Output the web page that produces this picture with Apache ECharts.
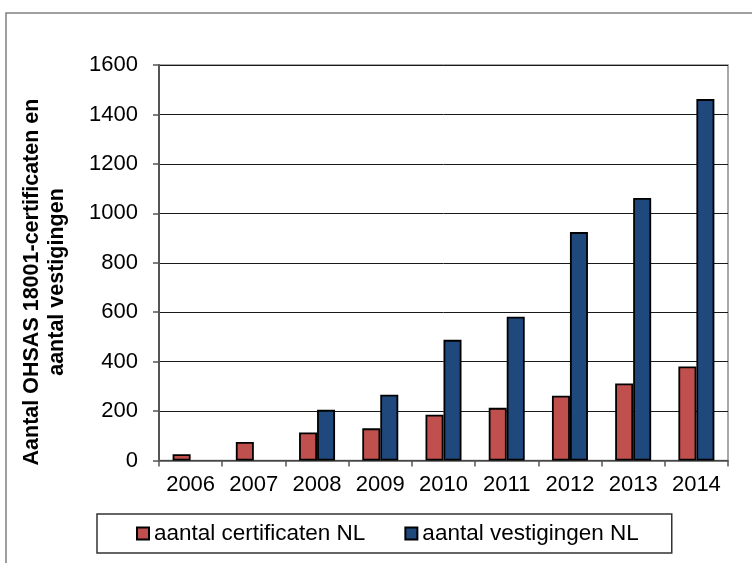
<!DOCTYPE html>
<html>
<head>
<meta charset="utf-8">
<script src="https://cdn.jsdelivr.net/npm/echarts@6/dist/echarts.min.js"></script>
<style>html,body{margin:0;padding:0;background:#fff;}#c{width:752px;height:563px;}</style>
</head>
<body>
<div id="c"></div>
<script>
const years = ['2006','2007','2008','2009','2010','2011','2012','2013','2014'];
const certificaten = [25, 75, 113, 130, 185, 213, 262, 312, 380];
const vestigingen = [null, null, 205, 266, 488, 582, 924, 1062, 1462];
const seriesNames = ['aantal certificaten NL', 'aantal vestigingen NL'];
const yTitle = 'Aantal OHSAS 18001-certificaten en\naantal vestigingen';

const FONT = '"Liberation Sans", Arial, sans-serif';
const chart = echarts.init(document.getElementById('c'), null, {renderer: 'canvas'});
chart.setOption({
  animation: false,
  backgroundColor: '#fff',
  graphic: [
    {type: 'rect', shape: {x: 6, y: 13, width: 800, height: 600}, style: {fill: 'none', stroke: '#808080', lineWidth: 1.5}, silent: true, z: -1},
    {type: 'text', x: 45, y: 282, rotation: Math.PI / 2,
     style: {text: yTitle, font: 'bold 21.5px ' + FONT, fill: '#000', align: 'center', verticalAlign: 'middle', lineHeight: 25}}
  ],
  grid: {left: 159, right: 24, top: 65, bottom: 102.5, show: true, borderColor: '#8c8c8c', borderWidth: 1.5, backgroundColor: 'transparent'},
  legend: {
    left: 97, top: 514,
    padding: [8, 33, 8, 39],
    itemGap: 39,
    itemWidth: 12, itemHeight: 12,
    borderColor: '#333', borderWidth: 1.5,
    icon: 'rect',
    textStyle: {fontFamily: FONT, fontSize: 22.5, color: '#000'},
    data: seriesNames
  },
  xAxis: {
    type: 'category',
    data: years,
    axisLine: {lineStyle: {color: '#555', width: 1.5}},
    axisTick: {show: true, length: 6, lineStyle: {color: '#555', width: 1.5}},
    axisLabel: {interval: 0, fontFamily: FONT, fontSize: 22, color: '#000', margin: 13}
  },
  yAxis: {
    type: 'value',
    min: 0, max: 1600, interval: 200,
    axisLine: {show: true, lineStyle: {color: '#555', width: 2}},
    axisTick: {show: true, length: 6, lineStyle: {color: '#555', width: 1.5}},
    axisLabel: {fontFamily: FONT, fontSize: 22, color: '#000', margin: 21, formatter: function (v) { return String(v); }},
    splitLine: {lineStyle: {color: '#1a1a1a', width: 1}}
  },
  series: [
    {name: seriesNames[0], type: 'bar', data: certificaten, barWidth: 18, barGap: '0%',
     itemStyle: {color: '#C0504D', borderColor: '#000', borderWidth: 1.8}},
    {name: seriesNames[1], type: 'bar', data: vestigingen, barWidth: 18, barGap: '0%',
     itemStyle: {color: '#1F497D', borderColor: '#000', borderWidth: 1.8}}
  ]
});
</script>
</body>
</html>
